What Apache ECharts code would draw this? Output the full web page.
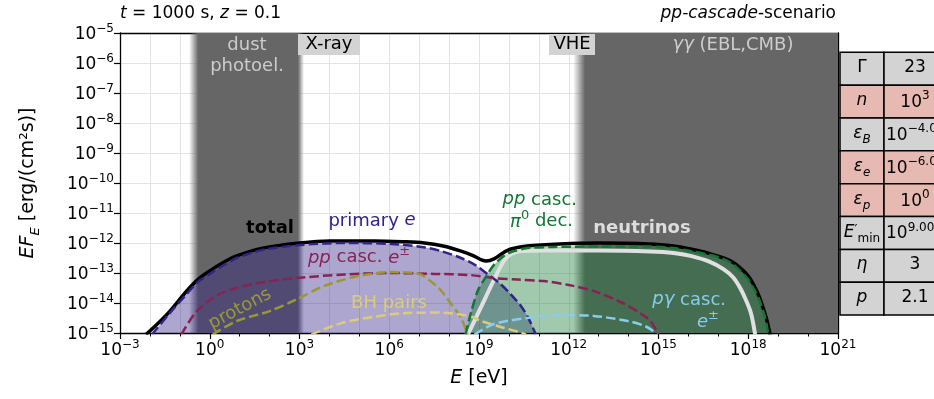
<!DOCTYPE html>
<html>
<head>
<meta charset="utf-8">
<script src="https://cdn.jsdelivr.net/npm/echarts@6/dist/echarts.min.js"></script>
<style>
  html, body { margin: 0; padding: 0; background: #fff; }
  #chart { width: 934px; height: 399px; }
</style>
</head>
<body>
<div id="chart"></div>
<script>
// SED components as [log10(E / eV), log10(EF_E / erg cm^-2 s^-1)]
const totalSED = [[-2.13,-15.05],[-1.7,-14.65],[-1.33,-14.27],[-0.77,-13.6],[-0.4,-13.22],[0.0,-12.93],[0.45,-12.65],[0.9,-12.43],[1.77,-12.17],[3.0,-12.0],[4.0,-11.93],[5.5,-11.93],[6.5,-11.96],[7.17,-12.0],[7.8,-12.1],[8.4,-12.27],[8.8,-12.42],[9.1,-12.57],[9.25,-12.6],[9.5,-12.53],[9.8,-12.33],[10.07,-12.2],[10.6,-12.1],[11.7,-12.03],[13.0,-12.0],[14.7,-12.03],[15.5,-12.1],[16.07,-12.2],[16.6,-12.32],[17.17,-12.5],[17.5,-12.65],[17.73,-12.83],[18.0,-13.1],[18.17,-13.37],[18.35,-13.75],[18.5,-14.17],[18.63,-14.6],[18.73,-15.05]];
const primaryE = [[-1.93,-15.05],[-1.33,-14.33],[-0.77,-13.7],[-0.4,-13.3],[0.0,-13.03],[0.45,-12.75],[0.9,-12.5],[1.77,-12.23],[3.0,-12.07],[4.4,-12.0],[6.07,-12.03],[7.2,-12.15],[7.73,-12.27],[8.4,-12.5],[8.9,-12.75],[9.33,-13.07],[9.7,-13.35],[10.07,-13.72],[10.4,-14.1],[10.63,-14.46],[10.9,-15.05]];
const ppPairs = [[-0.95,-15.05],[-0.43,-14.27],[0.33,-13.7],[1.43,-13.37],[2.9,-13.17],[4.5,-13.05],[5.97,-13.0],[7.5,-13.03],[8.73,-13.07],[9.5,-13.17],[10.3,-13.22],[11.17,-13.27],[12.0,-13.4],[12.83,-13.6],[13.8,-14.0],[14.4,-14.35],[14.73,-14.6],[15.0,-15.05]];
const protonSyn = [[0.1,-15.05],[0.9,-14.6],[2.0,-14.27],[2.9,-13.88],[3.83,-13.43],[4.97,-13.1],[6.07,-12.97],[6.97,-13.02],[7.35,-13.25],[7.7,-13.55],[8.07,-14.03],[8.4,-14.5],[8.62,-15.05]];
const bhPairs = [[3.4,-15.05],[4.4,-14.67],[5.5,-14.46],[6.63,-14.33],[7.73,-14.32],[8.73,-14.45],[9.07,-14.6],[9.73,-14.8],[10.2,-14.93],[10.57,-15.05]];
const pgPairs = [[8.85,-15.05],[9.5,-14.7],[10.63,-14.5],[11.73,-14.4],[12.83,-14.43],[13.97,-14.6],[14.5,-14.75],[14.73,-14.87],[14.95,-15.05]];
const ppPi0 = [[8.55,-15.05],[8.73,-14.33],[8.97,-13.57],[9.23,-13.13],[9.5,-12.73],[9.83,-12.43],[10.17,-12.27],[10.63,-12.17],[11.5,-12.13],[12.83,-12.12],[14.73,-12.12],[15.5,-12.17],[16.07,-12.27],[16.6,-12.37],[17.17,-12.53],[17.5,-12.72],[17.73,-12.93],[18.0,-13.22],[18.17,-13.5],[18.35,-13.85],[18.5,-14.27],[18.6,-14.65],[18.67,-15.05]];
const neutrinos = [[8.63,-15.05],[9.07,-14.13],[9.5,-13.23],[9.83,-12.6],[10.07,-12.37],[10.4,-12.27],[11.2,-12.25],[13.0,-12.25],[14.73,-12.28],[15.5,-12.33],[16.07,-12.43],[16.7,-12.62],[17.17,-12.87],[17.5,-13.15],[17.73,-13.5],[17.9,-13.85],[18.07,-14.27],[18.15,-14.6],[18.23,-15.05]];

// Absorption / observation bands, log10(E / eV)
const dustBand = [-0.69, 3.15];
const gammaGammaBand = [12.15, 21];

// Axis ranges (decades)
const xDecades = [-3, 21];
const yDecades = [-15, -5];

// Parameter table
const paramNames = ['{n|Γ}', '{i|n}', '{i|ε}{isub|B}', '{i|ε}{isub|e}', '{i|ε}{isub|p}', '{i|E}{prime|′}{sub|min}', '{i|η}', '{i|p}'];
const paramValues = ['{n|23}', '{n|10}{sup|3}', '{n|10}{sup|−4.00}', '{n|10}{sup|−6.00}', '{n|10}{sup|0}', '{n|10}{sup|9.00}', '{n|3}', '{n|2.1}'];
const paramFitted = [false, true, false, true, true, false, false, false];

const FONT = 'DejaVu Sans';
const toXY = pts => pts.map(p => [Math.pow(10, p[0]), Math.pow(10, p[1])]);

const tickRich = {
  b: { fontFamily: FONT, fontSize: 17, color: '#000', verticalAlign: 'bottom' },
  s: { fontFamily: FONT, fontSize: 12, color: '#000', verticalAlign: 'bottom', padding: [0, 0, 8, 0] }
};
function powLabel(v) {
  const e = Math.round(Math.log10(v));
  return '{b|10}{s|' + (e < 0 ? '\u2212' + (-e) : e) + '}';
}

const chart = echarts.init(document.getElementById('chart'), null, { renderer: 'canvas' });

const dashed = (name, data, color, z) => ({
  name, type: 'line', data: toXY(data), showSymbol: false, smooth: 0.3, z: z || 6,
  lineStyle: { color, width: 2.5, type: [9.5, 4], cap: 'butt' }
});
const filled = (data, color) => ({
  type: 'line', data: toXY(data), showSymbol: false, smooth: 0.3, z: 3,
  lineStyle: { width: 0, opacity: 0 }, areaStyle: { color, opacity: 1, origin: 'start' }
});

function bandGradient(edgeLeft, edgeRight) {
  const stops = [];
  stops.push({ offset: 0, color: edgeLeft ? 'rgba(102,102,102,0)' : '#666' });
  stops.push({ offset: edgeLeft || 0.0001, color: '#666' });
  stops.push({ offset: 1 - (edgeRight || 0.0001), color: '#666' });
  stops.push({ offset: 1, color: edgeRight ? 'rgba(102,102,102,0)' : '#666' });
  return new echarts.graphic.LinearGradient(0, 0, 1, 0, stops);
}

const annRich = (size) => ({
  n: { fontFamily: FONT, fontSize: size, verticalAlign: 'bottom', padding: [0, 0, 2, 0] },
  i: { fontFamily: FONT, fontSize: size, fontStyle: 'italic', verticalAlign: 'bottom', padding: [0, 0, 2, 0] },
  sup: { fontFamily: FONT, fontSize: 13, verticalAlign: 'bottom', padding: [0, 0, 11, 0] }
});

function annText(x, y, text, color, opts) {
  opts = opts || {};
  const size = opts.size || 18;
  const rich = annRich(size);
  Object.keys(rich).forEach(k => { rich[k].color = color; });
  return {
    type: 'text', x, y, rotation: opts.rotation || 0, z: 20,
    style: {
      text, rich, fill: color,
      font: (opts.bold ? 'bold ' : '') + size + 'px "' + FONT + '"',
      align: opts.align || 'center', verticalAlign: 'middle'
    }
  };
}

// Parameter table drawn at the right edge
const tableGraphics = [];
const tX0 = 840, tX1 = 884, tX2 = 946, tY0 = 52.3, rowH = 32.85;
const tabRich = {
  n: { fontFamily: FONT, fontSize: 17, color: '#000', verticalAlign: 'bottom', padding: [0, 0, 4, 0] },
  i: { fontFamily: FONT, fontSize: 17, fontStyle: 'italic', color: '#000', verticalAlign: 'bottom', padding: [0, 0, 4, 0] },
  sub: { fontFamily: FONT, fontSize: 12, color: '#000', verticalAlign: 'bottom', padding: [0, 0, 0, 0] },
  isub: { fontFamily: FONT, fontSize: 12, fontStyle: 'italic', color: '#000', verticalAlign: 'bottom', padding: [0, 0, 0, 0] },
  prime: { fontFamily: FONT, fontSize: 13, color: '#000', verticalAlign: 'bottom', padding: [0, 0, 9, 0] },
  sup: { fontFamily: FONT, fontSize: 12, color: '#000', verticalAlign: 'bottom', padding: [0, 0, 13, 0] }
};
paramNames.forEach((nm, r) => {
  const y = tY0 + r * rowH;
  const fill = paramFitted[r] ? '#e6bab2' : '#d3d3d3';
  tableGraphics.push({ type: 'rect', z: 30, shape: { x: tX0, y, width: tX1 - tX0, height: rowH }, style: { fill, stroke: '#000', lineWidth: 1.5 } });
  tableGraphics.push({ type: 'rect', z: 30, shape: { x: tX1, y, width: tX2 - tX1, height: rowH }, style: { fill, stroke: '#000', lineWidth: 1.5 } });
  tableGraphics.push({ type: 'text', z: 31, x: (tX0 + tX1) / 2, y: y + rowH / 2 + 1, style: { text: nm, rich: tabRich, align: 'center', verticalAlign: 'middle' } });
  const longVal = paramValues[r].indexOf('.') >= 0 && paramValues[r].indexOf('sup') >= 0;
  tableGraphics.push({ type: 'text', z: 31, x: longVal ? tX1 + 2 : 915, y: y + rowH / 2 + 1, style: { text: paramValues[r], rich: tabRich, align: longVal ? 'left' : 'center', verticalAlign: 'middle' } });
});

const option = {
  animation: false,
  backgroundColor: '#fff',
  grid: { left: 120, right: 96, top: 33, bottom: 66, containLabel: false },
  xAxis: [
    {
      type: 'log', logBase: 10, min: Math.pow(10, xDecades[0]), max: Math.pow(10, xDecades[1]), interval: 3,
      position: 'bottom',
      name: '{i|E} [eV]', nameLocation: 'middle', nameGap: 36,
      nameTextStyle: { fontFamily: FONT, fontSize: 19, color: '#000', rich: { i: { fontFamily: FONT, fontSize: 19, fontStyle: 'italic', color: '#000' } } },
      axisLine: { show: true, lineStyle: { color: '#000', width: 1.3 } },
      axisTick: { show: true, inside: false, length: 6, lineStyle: { color: '#000', width: 1.2 } },
      axisLabel: { formatter: powLabel, rich: tickRich, margin: 6 },
      splitLine: { show: false }, minorTick: { show: false }
    },
    {
      type: 'log', logBase: 10, min: Math.pow(10, xDecades[0]), max: Math.pow(10, xDecades[1]), interval: 1,
      position: 'bottom',
      axisLine: { show: false },
      axisTick: { show: true, length: 3.5, lineStyle: { color: '#000', width: 1 } },
      axisLabel: { show: false },
      splitLine: { show: true, lineStyle: { color: '#e3e3e3', width: 1 } }
    },
    {
      type: 'log', logBase: 10, min: Math.pow(10, xDecades[0]), max: Math.pow(10, xDecades[1]),
      position: 'top',
      axisLine: { show: true, lineStyle: { color: '#000', width: 1.3 } },
      axisTick: { show: false }, axisLabel: { show: false }, splitLine: { show: false }
    }
  ],
  yAxis: [
    {
      type: 'log', logBase: 10, min: Math.pow(10, yDecades[0]), max: Math.pow(10, yDecades[1]), interval: 1,
      position: 'left',
      name: '{i|EF}{sub|E}{n| [erg/(cm²s)]}', nameLocation: 'middle', nameGap: 78, nameRotate: 90,
      nameTextStyle: {
        fontFamily: FONT, fontSize: 19, color: '#000',
        rich: {
          i: { fontFamily: FONT, fontSize: 19, fontStyle: 'italic', color: '#000', verticalAlign: 'bottom', padding: [0, 0, 4, 0] },
          n: { fontFamily: FONT, fontSize: 19, color: '#000', verticalAlign: 'bottom', padding: [0, 0, 4, 0] },
          sub: { fontFamily: FONT, fontSize: 13, fontStyle: 'italic', color: '#000', verticalAlign: 'bottom' }
        }
      },
      axisLine: { show: true, lineStyle: { color: '#000', width: 1.3 } },
      axisTick: { show: true, length: 6, lineStyle: { color: '#000', width: 1.2 } },
      axisLabel: { formatter: powLabel, rich: tickRich, margin: 6 },
      splitLine: { show: true, lineStyle: { color: '#e3e3e3', width: 1 } }
    },
    {
      type: 'log', logBase: 10, min: Math.pow(10, yDecades[0]), max: Math.pow(10, yDecades[1]),
      position: 'right',
      axisLine: { show: true, lineStyle: { color: '#000', width: 1.3 } },
      axisTick: { show: false }, axisLabel: { show: false }, splitLine: { show: false }
    }
  ],
  series: [
    {
      type: 'line', data: [], z: 1, silent: true,
      markArea: {
        silent: true,
        data: [
          [{ xAxis: Math.pow(10, dustBand[0]), yAxis: Math.pow(10, yDecades[1]), itemStyle: { color: bandGradient(0.08, 0.055) } },
           { xAxis: Math.pow(10, dustBand[1]), yAxis: Math.pow(10, yDecades[0]) }],
          [{ xAxis: Math.pow(10, gammaGammaBand[0]), yAxis: Math.pow(10, yDecades[1]), itemStyle: { color: bandGradient(0.045, 0) } },
           { xAxis: Math.pow(10, gammaGammaBand[1]), yAxis: Math.pow(10, yDecades[0]) }]
        ]
      }
    },
    filled(primaryE, 'rgba(51,34,136,0.4)'),
    filled(ppPi0, 'rgba(17,119,51,0.4)'),
    { name: 'total', type: 'line', data: toXY(totalSED), showSymbol: false, smooth: 0.3, z: 4,
      lineStyle: { color: '#000', width: 3.5 } },
    { name: 'neutrinos', type: 'line', data: toXY(neutrinos), showSymbol: false, smooth: 0.3, z: 5,
      lineStyle: { color: '#e0e0e0', width: 4 } },
    dashed('primary e', primaryE, '#332288'),
    dashed('pp casc. e±', ppPairs, '#882255'),
    dashed('protons', protonSyn, '#999933'),
    dashed('BH pairs', bhPairs, '#DDCC77'),
    dashed('pγ casc. e±', pgPairs, '#88CCEE'),
    dashed('pp casc. π0 dec.', ppPi0, '#117733', 7)
  ],
  graphic: [
    // titles
    { type: 'text', x: 120, y: 14, style: { text: '{i|t} = 1000 s, {i|z} = 0.1', font: '17px "' + FONT + '"', fill: '#000', align: 'left', verticalAlign: 'middle',
      rich: { i: { fontFamily: FONT, fontSize: 17, fontStyle: 'italic', color: '#000' } } } },
    { type: 'text', x: 836, y: 14, style: { text: '{i|pp-cascade}-scenario', font: '17px "' + FONT + '"', fill: '#000', align: 'right', verticalAlign: 'middle',
      rich: { i: { fontFamily: FONT, fontSize: 17, fontStyle: 'italic', color: '#000' } } } },
    // band captions
    { type: 'rect', z: 15, shape: { x: 298, y: 34, width: 62, height: 21 }, style: { fill: '#d3d3d3' } },
    annText(329, 44, 'X-ray', '#000'),
    { type: 'rect', z: 15, shape: { x: 549, y: 34, width: 46, height: 21 }, style: { fill: '#d3d3d3' } },
    annText(572, 44, 'VHE', '#000'),
    annText(247, 45, 'dust', '#cccccc'),
    annText(247, 66, 'photoel.', '#cccccc'),
    annText(733, 45, '{i|γγ} (EBL,CMB)', '#cccccc'),
    // component labels
    annText(270, 228, 'total', '#000', { bold: true }),
    annText(372, 221, 'primary {i|e}', '#332288'),
    annText(359, 257, '{i|pp} casc. {i|e}{sup|±}', '#882255'),
    annText(240, 309, 'protons', '#999933', { rotation: 0.49 }),
    annText(389, 303, 'BH pairs', '#DDCC77'),
    annText(577, 200, '{i|pp} casc.', '#117733', { align: 'right' }),
    annText(573, 221, '{i|π}{sup|0} dec.', '#117733', { align: 'right' }),
    annText(642, 228, 'neutrinos', '#dddddd', { bold: true }),
    annText(726, 300, '{i|pγ} casc.', '#88CCEE', { align: 'right' }),
    annText(719, 321, '{i|e}{sup|±}', '#88CCEE', { align: 'right' })
  ].concat(tableGraphics)
};

chart.setOption(option);
</script>
</body>
</html>
